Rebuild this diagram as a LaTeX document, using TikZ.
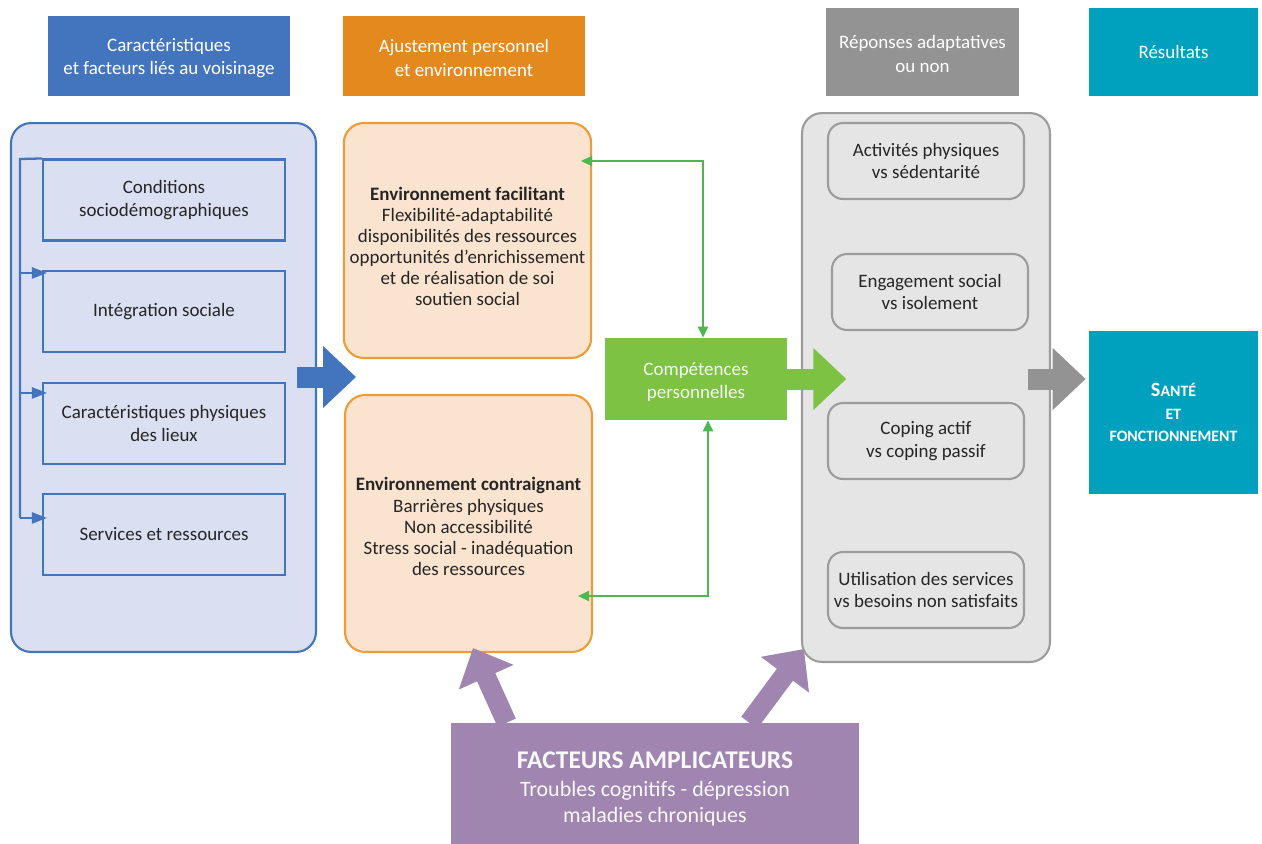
\documentclass[tikz,border=0pt]{standalone}
\usepackage{fontspec}
\setmainfont{Carlito}
\usepackage{xcolor}
\usetikzlibrary{arrows.meta,positioning,calc}

\definecolor{hdblue}{HTML}{4374BE}
\definecolor{hdorange}{HTML}{E4891E}
\definecolor{hdgray}{HTML}{939393}
\definecolor{hdteal}{HTML}{00A1BF}
\definecolor{fillblue}{HTML}{DADFF1}
\definecolor{fillorange}{HTML}{FAE3CF}
\definecolor{bdorange}{HTML}{EE9B38}
\definecolor{fillgray}{HTML}{E5E5E5}
\definecolor{bdgray}{HTML}{9C9C9C}
\definecolor{compgreen}{HTML}{7DC242}
\definecolor{linegreen}{HTML}{4DB84F}
\definecolor{amplipurple}{HTML}{9F85AF}
\definecolor{txtdark}{HTML}{262626}

\begin{document}
\begin{tikzpicture}[
    x=0.02cm, y=-0.02cm,
    txt/.style={font=\fontsize{10.8}{12.8}\selectfont, text=txtdark, align=center},
    header/.style={rectangle, txt, text=white, font=\fontsize{10.8}{13.4}\selectfont, minimum width=4.84cm, minimum height=1.6cm},
    panel/.style={rectangle, rounded corners=0.4cm, line width=1.2pt},
    facteur/.style={rectangle, txt, draw=hdblue, fill=fillblue, line width=1.2pt, minimum width=4.84cm, minimum height=1.62cm},
    envbox/.style={rectangle, txt, font=\fontsize{10.8}{12}\selectfont, rounded corners=0.4cm, draw=bdorange, fill=fillorange, line width=1.2pt, minimum width=4.9cm},
    reponse/.style={rectangle, txt, rounded corners=0.3cm, draw=bdgray, fill=fillgray, line width=1.2pt, minimum width=3.92cm, minimum height=1.52cm},
    busline/.style={draw=hdblue, line width=1.3pt},
    busarrow/.style={busline, -{Triangle[width=0.22cm,length=0.3cm]}},
    gline/.style={draw=linegreen, line width=1.2pt, {Triangle[width=0.2cm,length=0.22cm]}-{Triangle[width=0.2cm,length=0.22cm]}},
    bigarrow/.style={line width=0.42cm, -{Triangle[width=1.2cm,length=0.66cm]}},
    ampliarrow/.style={draw=amplipurple, line width=0.4cm, -{Triangle[width=1.16cm,length=0.64cm]}}
]
    \useasboundingbox (0,0) rectangle (1262,843);

    % column headers
    \node[header, fill=hdblue] (hvois) at (169,56) {\rule{0pt}{10pt}Caractéristiques\\et facteurs liés au voisinage};
    \node[header, fill=hdorange] (hajust) at (464,56) {\rule{0pt}{10pt}Ajustement personnel\\et environnement};
    \node[header, fill=hdgray, minimum width=3.86cm, minimum height=1.76cm] (hrep) at (922.5,52) {\rule{0pt}{10pt}Réponses adaptatives\\ou non};
    \node[header, fill=hdteal, minimum width=3.38cm, minimum height=1.76cm] (hres) at (1173.5,52) {Résultats};

    % neighbourhood factors
    \node[panel, draw=hdblue, fill=fillblue, minimum width=6.1cm, minimum height=10.58cm] (voisin) at (163.5,387.5) {};
    \node[facteur] (cond) at (164,200) {Conditions\\sociodémographiques};
    \node[facteur] (integ) at (164,311.5) {Intégration sociale};
    \node[facteur] (phys) at (164,423.5) {Caractéristiques physiques\\des lieux};
    \node[facteur] (serv) at (164,534.5) {Services et ressources};

    \coordinate (busTop) at (20,159);
    \coordinate (tipInteg) at ($(integ.north west)+(5,3)$);
    \coordinate (tipPhys) at ($(phys.north west)+(5,11)$);
    \coordinate (tipServ) at ($(serv.north west)+(5,25)$);
    \draw[busline] (cond.north west) -- (busTop) -- (busTop |- tipServ);
    \draw[busarrow] (busTop |- tipInteg) -- (tipInteg);
    \draw[busarrow] (busTop |- tipPhys) -- (tipPhys);
    \draw[busarrow] (busTop |- tipServ) -- (tipServ);

    % environment
    \node[envbox, minimum height=4.7cm] (facil) at (467.5,240.5) {\rule{0pt}{14.3pt}\textbf{Environnement facilitant}\\Flexibilité-adaptabilité\\disponibilités des ressources\\opportunités d’enrichissement\\et de réalisation de soi\\soutien social};
    \node[envbox, minimum width=4.94cm, minimum height=5.14cm] (contr) at (468.5,523.5) {\rule{0pt}{11pt}\textbf{Environnement contraignant}\\Barrières physiques\\Non accessibilité\\Stress social - inadéquation\\des ressources};

    % personal competences
    \node[rectangle, txt, text=white!92!compgreen, fill=compgreen, minimum width=3.64cm, minimum height=1.64cm] (comp) at (696,379) {\rule{0pt}{11pt}Compétences\\personnelles};
    \coordinate (facIn) at (581,161);
    \coordinate (conIn) at (578,596);
    \draw[gline] (facIn) -| ([xshift=0.14cm]comp.north);
    \draw[gline] (conIn) -| ([xshift=0.24cm]comp.south);

    % responses
    \node[panel, draw=bdgray, fill=fillgray, minimum width=4.96cm, minimum height=10.98cm] (repons) at (926,387.5) {};
    \node[reponse] (activ) at (926,161) {Activités physiques\\vs sédentarité};
    \node[reponse] (engag) at (930,292) {Engagement social\\vs isolement};
    \node[reponse] (coping) at (926,441) {Coping actif\\vs coping passif};
    \node[reponse] (utilis) at (926,590) {Utilisation des services\\vs besoins non satisfaits};

    % outcome
    \node[rectangle, fill=hdteal, text=white, align=center, font=\fontsize{9}{13}\selectfont\bfseries, minimum width=3.38cm, minimum height=3.26cm] (sante) at (1173.5,412.5) {{\fontsize{11.5}{13}\selectfont S}ANTÉ\\ET\\FONCTIONNEMENT};

    % amplifying factors
    \node[rectangle, fill=amplipurple, text=white!94!amplipurple, align=center, font=\fontsize{12.5}{14.8}\selectfont, minimum width=8.16cm, minimum height=2.64cm] (ampli) at (655,789) {{\fontsize{14.5}{16}\selectfont\bfseries FACTEURS AMPLICATEURS}\\[1pt]Troubles cognitifs - dépression\\maladies chroniques};

    % big arrows
    \draw[bigarrow, draw=hdblue] ($(voisin.east |- comp)+(-20,-2)$) -- ($(voisin.east |- comp)+(39,-2)$);
    \draw[bigarrow, draw=compgreen] (comp.east) -- ($(comp.east)+(59,0)$);
    \draw[bigarrow, draw=hdgray] ($(repons.east |- comp)+(-23,0)$) -- ($(sante.west |- comp)+(-3,0)$);
    \draw[ampliarrow] ($(ampli.north west)+(56,0)$) -- ($(contr.south)+(4.5,-5)$);
    \draw[ampliarrow] ($(ampli.north east)+(-110,0)$) -- ($(repons.south west)+(3,-14)$);
\end{tikzpicture}
\end{document}
